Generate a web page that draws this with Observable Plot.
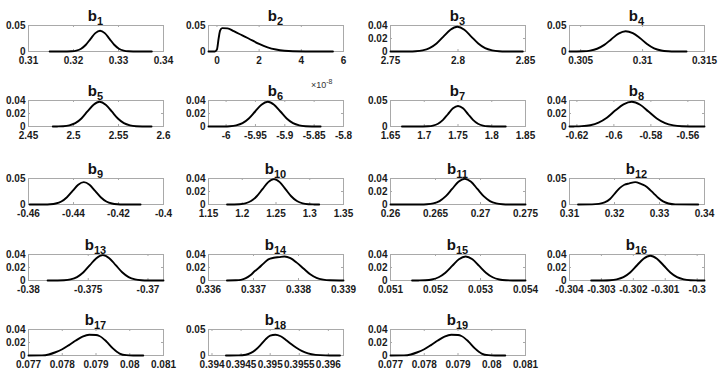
<!DOCTYPE html>
<html>
<head>
<meta charset="utf-8">
<script src="https://cdn.jsdelivr.net/npm/d3@7"></script>
<script src="https://cdn.jsdelivr.net/npm/@observablehq/plot@0.6"></script>
<style>
  html, body { margin: 0; padding: 0; background: #fff; }
  #chart { position: relative; width: 725px; height: 377px; background: #fff; overflow: hidden; }
  .ttl { position: absolute; text-align: center; font-family: "Liberation Sans", Arial, sans-serif; font-weight: bold; font-size: 15px; line-height: 15px; color: #111; white-space: nowrap; }
  .ttl span { font-size: 11px; vertical-align: -4px; }
  .expo { position: absolute; font-family: "Liberation Sans", Arial, sans-serif; font-size: 9px; line-height: 9px; color: #333; white-space: nowrap; }
  .expo span { font-size: 7px; vertical-align: 4px; }
  svg { position: absolute; overflow: visible; }
</style>
</head>
<body>
<div id="chart"></div>
<script>
// ---- Panel subscripts ----
const subscripts = ["1","2","3","4","5","6","7","8","9","10","11","12","13","14","15","16","17","18","19"];

// ---- Axis limits and tick values (as in the picture) ----
const xLimits = [
  [0.31, 0.34], [-0.4, 6], [2.75, 2.85], [0.3041, 0.315],
  [2.45, 2.6], [-6.03, -5.8], [1.65, 1.85], [-0.624, -0.551],
  [-0.46, -0.4], [1.15, 1.35], [0.26, 0.275], [0.31, 0.34],
  [-0.38, -0.3687], [0.336, 0.339], [0.051, 0.054], [-0.304, -0.29977],
  [0.077, 0.081], [0.39394, 0.39626], [0.077, 0.081]
];
const xTicks = [
  [0.31, 0.32, 0.33, 0.34], [0, 2, 4, 6], [2.75, 2.8, 2.85], [0.305, 0.31, 0.315],
  [2.45, 2.5, 2.55, 2.6], [-6, -5.95, -5.9, -5.85, -5.8], [1.65, 1.7, 1.75, 1.8, 1.85], [-0.62, -0.6, -0.58, -0.56],
  [-0.46, -0.44, -0.42, -0.4], [1.15, 1.2, 1.25, 1.3, 1.35], [0.26, 0.265, 0.27, 0.275], [0.31, 0.32, 0.33, 0.34],
  [-0.38, -0.375, -0.37], [0.336, 0.337, 0.338, 0.339], [0.051, 0.052, 0.053, 0.054], [-0.304, -0.303, -0.302, -0.301, -0.3],
  [0.077, 0.078, 0.079, 0.08, 0.081], [0.394, 0.3945, 0.395, 0.3955, 0.396], [0.077, 0.078, 0.079, 0.08, 0.081]
];
const yTicks = [
  [0, 0.05], [0, 0.05], [0, 0.02, 0.04], [0, 0.05],
  [0, 0.02, 0.04], [0, 0.02, 0.04], [0, 0.05], [0, 0.02, 0.04],
  [0, 0.05], [0, 0.02, 0.04], [0, 0.02, 0.04], [0, 0.05],
  [0, 0.02, 0.04], [0, 0.02, 0.04], [0, 0.02, 0.04], [0, 0.02, 0.04],
  [0, 0.02, 0.04], [0, 0.05], [0, 0.02, 0.04]
];

// ---- Density curves: [x, density] ----
const b1 = [[0.3147,0],[0.31855,0.0001],[0.3196,0.0004],[0.32065,0.0018],[0.3217,0.0054],[0.32275,0.013],[0.3238,0.0243],[0.32485,0.0353],[0.3259,0.04],[0.32695,0.0353],[0.328,0.0243],[0.32905,0.013],[0.3301,0.0054],[0.33115,0.0018],[0.3322,0.0004],[0.33325,0.0001],[0.3374,0]];
const b2 = [[-0.4,0],[-0.1,0],[0,0.004],[0.08,0.025],[0.15,0.04],[0.25,0.045],[0.5,0.0445],[0.8,0.039],[1.2,0.031],[1.5,0.025],[2.0,0.0145],[2.4,0.008],[2.8,0.0038],[3.2,0.0014],[3.6,0.0004],[4.2,0.0001],[5.5,0]];
const b3 = [[2.75,0],[2.7635,0.0001],[2.7686,0.0004],[2.7738,0.0017],[2.7789,0.0051],[2.7841,0.0123],[2.7892,0.023],[2.7944,0.0335],[2.7995,0.038],[2.8047,0.0335],[2.8098,0.023],[2.815,0.0123],[2.8201,0.0051],[2.8253,0.0017],[2.8304,0.0004],[2.8356,0.0001],[2.848,0]];
const b4 = [[0.3041,0],[0.3046,0.0001],[0.30518,0.0004],[0.30576,0.0017],[0.30633,0.0053],[0.30691,0.0127],[0.30748,0.0237],[0.30806,0.0344],[0.30863,0.039],[0.30921,0.0352],[0.30978,0.026],[0.31036,0.0145],[0.31093,0.006],[0.31151,0.0019],[0.31208,0.0005],[0.31266,0.0001],[0.31355,0]];
const b5 = [[2.477,0],[2.4818,0.0001],[2.4885,0.0004],[2.4953,0.0017],[2.502,0.0051],[2.5088,0.0123],[2.5155,0.0231],[2.5223,0.0335],[2.529,0.038],[2.5358,0.0335],[2.5425,0.0231],[2.5493,0.0123],[2.556,0.0051],[2.5628,0.0017],[2.5695,0.0004],[2.5763,0.0001],[2.5867,0]];
const b6 = [[-6.03,0],[-6.0043,0.0001],[-5.9935,0.0004],[-5.9828,0.0017],[-5.972,0.0051],[-5.9613,0.0123],[-5.9505,0.0231],[-5.9398,0.0335],[-5.929,0.038],[-5.9183,0.0335],[-5.9075,0.0231],[-5.8968,0.0123],[-5.886,0.0051],[-5.8753,0.0017],[-5.8645,0.0004],[-5.8538,0.0001],[-5.839,0]];
const b7 = [[1.667,0],[1.6982,0.0001],[1.7056,0.0004],[1.713,0.0017],[1.7204,0.0053],[1.7278,0.0128],[1.7352,0.024],[1.7426,0.0349],[1.75,0.0395],[1.7574,0.0349],[1.7648,0.024],[1.7722,0.0128],[1.7796,0.0053],[1.787,0.0017],[1.7944,0.0004],[1.8018,0.0001],[1.8207,0]];
const b8 = [[-0.624,0],[-0.6218,0.0001],[-0.6173,0.0005],[-0.6128,0.002],[-0.6083,0.006],[-0.6038,0.0135],[-0.5993,0.0245],[-0.5948,0.034],[-0.5903,0.038],[-0.5858,0.0335],[-0.5813,0.023],[-0.5768,0.0123],[-0.5723,0.0051],[-0.5678,0.0017],[-0.5633,0.0004],[-0.5588,0.0001],[-0.551,0]];
const b9 = [[-0.4595,0],[-0.4529,0.0001],[-0.4504,0.0005],[-0.4479,0.0019],[-0.4454,0.0058],[-0.4429,0.014],[-0.4404,0.0261],[-0.4379,0.038],[-0.4354,0.043],[-0.4329,0.038],[-0.4304,0.0261],[-0.4279,0.014],[-0.4254,0.0058],[-0.4229,0.0019],[-0.4204,0.0005],[-0.4179,0.0001],[-0.4102,0]];
const b10 = [[1.1775,0],[1.1875,0.0001],[1.196,0.0004],[1.2045,0.0017],[1.213,0.0053],[1.2215,0.0127],[1.23,0.0237],[1.2385,0.0344],[1.247,0.039],[1.2555,0.0344],[1.264,0.0237],[1.2725,0.0127],[1.281,0.0053],[1.2895,0.0017],[1.298,0.0004],[1.3065,0.0001],[1.314,0]];
const b11 = [[0.26,0],[0.26335,0.0001],[0.26405,0.0004],[0.26475,0.0017],[0.26545,0.0053],[0.26615,0.0128],[0.26685,0.024],[0.26755,0.0349],[0.26825,0.0395],[0.26895,0.0349],[0.26965,0.024],[0.27035,0.0128],[0.27105,0.0053],[0.27175,0.0017],[0.27245,0.0004],[0.27315,0.0001],[0.275,0]];
const b12 = [[0.3119,0],[0.315,0.0002],[0.3165,0.0012],[0.3178,0.004],[0.319,0.0105],[0.3201,0.0215],[0.3212,0.032],[0.3222,0.038],[0.3233,0.0405],[0.3246,0.043],[0.3258,0.04],[0.3268,0.036],[0.3278,0.029],[0.3287,0.0215],[0.3297,0.013],[0.3308,0.006],[0.332,0.002],[0.3335,0.0003],[0.3386,0]];
const b13 = [[-0.3784,0],[-0.37756,0.0001],[-0.37702,0.0004],[-0.37648,0.0017],[-0.37594,0.0053],[-0.3754,0.0127],[-0.37486,0.0237],[-0.37432,0.0344],[-0.37378,0.039],[-0.37324,0.0344],[-0.3727,0.0237],[-0.37216,0.0127],[-0.37162,0.0053],[-0.37108,0.0017],[-0.37054,0.0004],[-0.37,0.0001],[-0.3687,0]];
const b14 = [[0.33641,0],[0.3366,0.0003],[0.33672,0.001],[0.33683,0.0035],[0.33693,0.008],[0.33703,0.0145],[0.33712,0.0195],[0.33722,0.026],[0.33733,0.0325],[0.33745,0.035],[0.33757,0.036],[0.33769,0.037],[0.33782,0.0345],[0.33796,0.0275],[0.33811,0.0185],[0.33826,0.0095],[0.3384,0.004],[0.33855,0.0013],[0.3387,0.0003],[0.339,0]];
const b15 = [[0.05148,0],[0.05162,0.0001],[0.05177,0.0004],[0.05192,0.0016],[0.05207,0.005],[0.05222,0.012],[0.05237,0.0224],[0.05252,0.0327],[0.05267,0.037],[0.05282,0.0327],[0.05297,0.0224],[0.05312,0.012],[0.05327,0.005],[0.05342,0.0016],[0.05357,0.0004],[0.05372,0.0001],[0.054,0]];
const b16 = [[-0.30332,0],[-0.30294,0.0001],[-0.30273,0.0004],[-0.30252,0.0017],[-0.30231,0.0051],[-0.3021,0.0123],[-0.30189,0.0231],[-0.30168,0.0335],[-0.30147,0.038],[-0.30126,0.0335],[-0.30105,0.0231],[-0.30084,0.0123],[-0.30063,0.0051],[-0.30042,0.0017],[-0.30021,0.0004],[-0.3,0.0001],[-0.29977,0]];
const b17 = [[0.077,0],[0.0774,0.0002],[0.0776,0.0016],[0.0778,0.005],[0.078,0.0096],[0.0782,0.016],[0.0784,0.023],[0.0786,0.029],[0.0788,0.032],[0.079,0.0315],[0.0791,0.03],[0.0793,0.022],[0.0795,0.011],[0.0797,0.003],[0.0799,0.0005],[0.0801,0.0001],[0.0804,0]];
const b18 = [[0.39424,0],[0.39445,0.0003],[0.39458,0.0015],[0.39467,0.005],[0.39475,0.011],[0.39484,0.021],[0.39492,0.031],[0.395,0.038],[0.39509,0.04],[0.39518,0.037],[0.39527,0.03],[0.39536,0.022],[0.39545,0.015],[0.39555,0.0085],[0.39565,0.004],[0.39578,0.0012],[0.39595,0.0002],[0.3962,0]];
const b19 = [[0.077,0],[0.0774,0.0002],[0.0776,0.0016],[0.0778,0.005],[0.078,0.0096],[0.0782,0.016],[0.0784,0.023],[0.0786,0.029],[0.0788,0.032],[0.079,0.0315],[0.0791,0.03],[0.0793,0.022],[0.0795,0.011],[0.0797,0.003],[0.0799,0.0005],[0.0801,0.0001],[0.0804,0]];
const curves = [b1,b2,b3,b4,b5,b6,b7,b8,b9,b10,b11,b12,b13,b14,b15,b16,b17,b18,b19];

// ---- Layout ----
const colLeft = [28, 208, 390, 569];
const rowTop = [25, 100, 178, 254, 329];
const boxW = 135, boxH = 26;
const mL = 34, mR = 18, mT = 3, mB = 18;
const frameColor = "#a9a9a9";

const chart = document.getElementById("chart");

curves.forEach((data, i) => {
  const col = i % 4, row = Math.floor(i / 4);
  const left = colLeft[col], top = rowTop[row];
  const svg = Plot.plot({
    width: boxW + mL + mR,
    height: boxH + mT + mB,
    marginLeft: mL, marginRight: mR, marginTop: mT, marginBottom: mB,
    x: {domain: xLimits[i]},
    y: {domain: [0, yTicks[i][yTicks[i].length - 1]]},
    style: {fontFamily: "'Liberation Sans', Arial, sans-serif", fontSize: "10px", fontWeight: "bold", color: "#1a1a1a", background: "transparent"},
    marks: [
      Plot.frame({stroke: frameColor}),
      Plot.tickX(xTicks[i], {x: d => d, stroke: frameColor, insetTop: boxH - 2}),
      Plot.tickX(xTicks[i], {x: d => d, stroke: frameColor, insetBottom: boxH - 2}),
      Plot.tickY(yTicks[i], {y: d => d, stroke: frameColor, insetRight: boxW - 2}),
      Plot.tickY(yTicks[i], {y: d => d, stroke: frameColor, insetLeft: boxW - 2}),
      Plot.line(data, {x: d => d[0], y: d => d[1], stroke: "#000", strokeWidth: 1.9, curve: "monotone-x"}),
      Plot.axisX({ticks: xTicks[i], tickSize: 0, tickPadding: 5, tickFormat: d => String(d), label: null}),
      Plot.axisY({ticks: yTicks[i], tickSize: 0, tickPadding: 3, tickFormat: d => String(d), label: null})
    ]
  });
  svg.style.left = (left - mL) + "px";
  svg.style.top = (top - mT) + "px";
  chart.appendChild(svg);

  const t = document.createElement("div");
  t.className = "ttl";
  t.style.left = left + "px";
  t.style.width = boxW + "px";
  t.style.top = (top - 17) + "px";
  t.innerHTML = "b<span>" + subscripts[i] + "</span>";
  chart.appendChild(t);
});

// exponent label for b2
const ex = document.createElement("div");
ex.className = "expo";
ex.style.left = "311px";
ex.style.top = "77px";
ex.innerHTML = "×10<span>-8</span>";
chart.appendChild(ex);
</script>
</body>
</html>
